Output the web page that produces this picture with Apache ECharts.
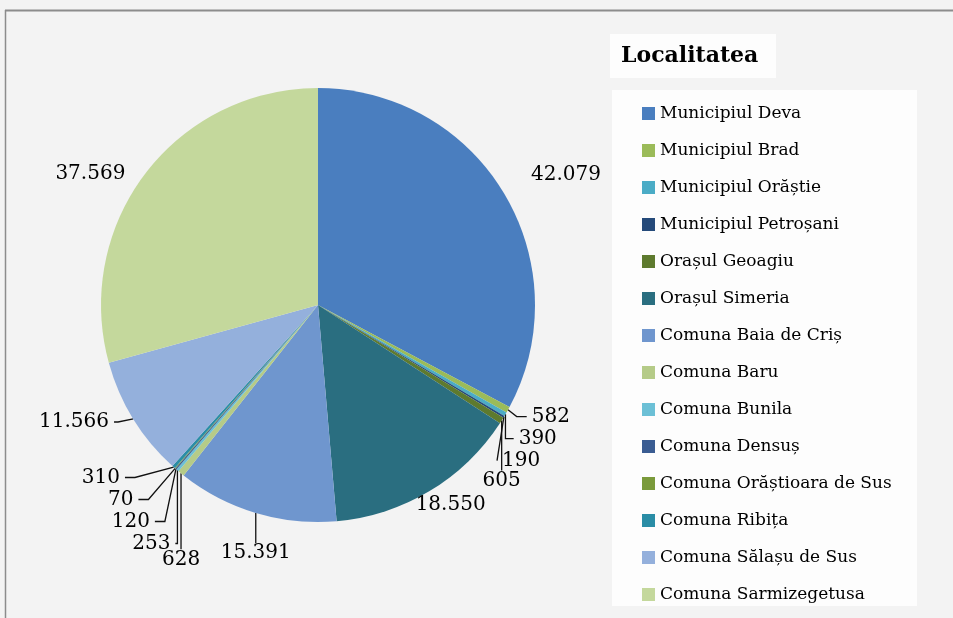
<!DOCTYPE html>
<html>
<head>
<meta charset="utf-8">
<script src="https://cdn.jsdelivr.net/npm/echarts@6/dist/echarts.min.js"></script>
<style>
  html, body { margin: 0; padding: 0; background: #f3f3f3; }
  #chart { width: 953px; height: 618px; }
</style>
</head>
<body>
<div id="chart"></div>
<script>
// localitati si valori
const localitati = [
  'Municipiul Deva', 'Municipiul Brad', 'Municipiul Orăștie', 'Municipiul Petroșani',
  'Orașul Geoagiu', 'Orașul Simeria', 'Comuna Baia de Criș', 'Comuna Baru',
  'Comuna Bunila', 'Comuna Densuș', 'Comuna Orăștioara de Sus', 'Comuna Ribița',
  'Comuna Sălașu de Sus', 'Comuna Sarmizegetusa'
]
const valori = [42079, 582, 390, 190, 605, 18550, 15391, 628, 253, 120, 70, 310, 11566, 37569]
const culori = [
  '#4a7ebf', '#9bbb59', '#4bacc6', '#254a7a', '#5e7a2e', '#2a6e80', '#6f96ce',
  '#b5cb88', '#6cc0d6', '#3a5c92', '#7a9a3b', '#2a8da6', '#94b0dc', '#c4d89c'
]

const fontSerif = '"DejaVu Serif", serif'

// format cu punct la mii (ro)
const fmt = v => String(v).replace(/\B(?=(\d{3})+(?!\d))/g, '.')

// linii de etichete pe felii (lungime, lungime2, vizibil)
const linii = {
  0: { length: 36, length2: -9, show: false },
  5: { length: 2, length2: -20, show: false },
  12: { length: 6, length2: 4, show: true },
  13: { length: 0, length2: 15, show: false }
}
// etichete puse direct sub felie (distanta pe verticala)
const sub = { 4: 60, 6: 40, 7: 86 }

const chart = echarts.init(document.getElementById('chart'))

const option = {
  backgroundColor: '#f3f3f3',
  animation: false,
  graphic: [
    // chenar sus / stanga
    { type: 'line', shape: { x1: 5, y1: 10.5, x2: 953, y2: 10.5 }, style: { stroke: '#8c8c8c', lineWidth: 2 } },
    { type: 'line', shape: { x1: 5.5, y1: 10, x2: 5.5, y2: 618 }, style: { stroke: '#8c8c8c', lineWidth: 1.5 } },
    // fundal titlu legenda
    { type: 'rect', shape: { x: 610, y: 34, width: 166, height: 44 }, style: { fill: '#fdfdfd' } },
    // fundal legenda
    { type: 'rect', shape: { x: 612, y: 90, width: 305, height: 516 }, style: { fill: '#fdfdfd' } }
  ],
  title: {
    text: 'Localitatea',
    left: 616,
    top: 40,
    textStyle: { fontFamily: fontSerif, fontWeight: 'bold', fontSize: 22, color: '#000' }
  },
  legend: {
    orient: 'vertical',
    left: 637,
    top: 100,
    icon: 'rect',
    itemWidth: 13,
    itemHeight: 13,
    itemGap: 20,
    textStyle: { fontFamily: fontSerif, fontSize: 17, color: '#000', lineHeight: 17 },
    data: localitati
  },
  series: [
    {
      type: 'pie',
      center: [318, 305],
      radius: 217,
      startAngle: 90,
      clockwise: true,
      avoidLabelOverlap: true,
      label: {
        show: true,
        position: 'outside',
        formatter: p => fmt(p.value),
        fontFamily: fontSerif,
        fontSize: 20,
        color: '#000'
      },
      labelLine: {
        show: true,
        length: 14,
        length2: 10,
        lineStyle: { color: '#111', width: 1.3 }
      },
      labelLayout: params => {
        const dy = sub[params.dataIndex]
        if (dy === undefined) return {}
        const p = params.labelLinePoints[0]
        return { x: p[0], y: p[1] + dy, align: 'center', verticalAlign: 'middle' }
      },
      itemStyle: { borderWidth: 0 },
      emphasis: { disabled: true },
      data: localitati.map((n, i) => {
        const d = { name: n, value: valori[i], itemStyle: { color: culori[i] } }
        if (linii[i]) d.labelLine = linii[i]
        return d
      })
    }
  ]
}

chart.setOption(option)
</script>
</body>
</html>
